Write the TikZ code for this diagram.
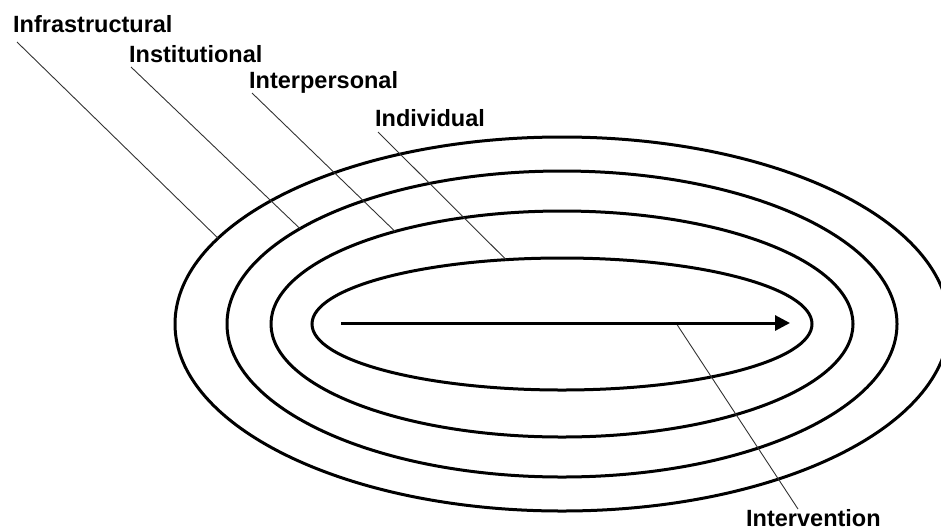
\documentclass[tikz,border=0pt]{standalone}
\usepackage{fontspec}
\setmainfont{Liberation Sans}
\usetikzlibrary{arrows.meta, shapes.geometric}

\begin{document}
\begin{tikzpicture}[
  x=1pt, y=-1pt,
  font=\fontsize{23.5}{28}\selectfont\bfseries,
  ring/.style={ellipse, draw=black, line width=3pt, inner sep=0pt, outer sep=0pt},
  level/.style={anchor=base west, inner sep=0pt},
  leader/.style={draw=black!80, line width=0.9pt},
  flow/.style={-{Triangle[length=15pt, width=15pt]}, line width=3pt}
]
  \useasboundingbox (0,0) rectangle (941,531);

  % --- nested levels (outer to inner) ---
  \node[ring, minimum width=774pt, minimum height=374pt] (infra)  at (562,324) {};
  \node[ring, minimum width=670pt, minimum height=306pt] (inst)   at (562,324) {};
  \node[ring, minimum width=582pt, minimum height=226pt] (inter)  at (562,324) {};
  \node[ring, minimum width=500pt, minimum height=132pt] (indiv)  at (562,324) {};

  % --- level labels ---
  \node[level] (linfra) at (13,32)  {Infrastructural};
  \node[level] (linst)  at (129,62) {Institutional};
  \node[level] (linter) at (249,88) {Interpersonal};
  \node[level] (lindiv) at (375,126) {Individual};
  \node[level] (lint)   at (746,526) {Intervention};

  % leader start points under the labels
  \coordinate (tinfra) at (17,42);
  \coordinate (tinst)  at (131,67);
  \coordinate (tinter) at (252,93);
  \coordinate (tindiv) at (378,132);

  % --- leaders ---
  \draw[leader] (tinfra) -- (infra.166);
  \draw[leader] (tinst)  -- (inst.160.5);
  \draw[leader] (tinter) -- (inter.151.5);
  \draw[leader] (tindiv) -- (indiv.131.8);

  % --- intervention arrow ---
  \coordinate (tail)  at (341,323);
  \coordinate (head)  at (790,323);
  \coordinate (cross) at (676,323);
  \coordinate (tint)  at (798,509);
  \draw[leader] (cross) -- (tint);
  \draw[flow] (tail) -- (head);

\end{tikzpicture}
\end{document}
